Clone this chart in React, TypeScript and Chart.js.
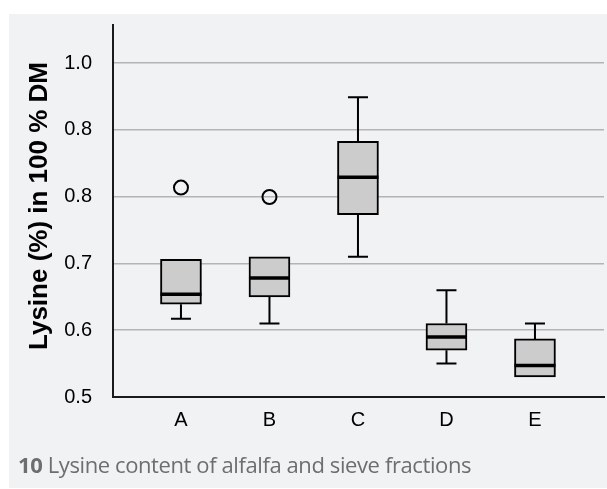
import React, { useEffect, useRef } from "react";
import { Chart, registerables } from "chart.js";

Chart.register(...registerables);

// ---- data ----
const CATEGORIES = ["A", "B", "C", "D", "E"];
const POSITIONS = [1, 2, 3, 4, 5];
const WHISKER_LOW = [0.617, 0.61, 0.71, 0.55, 0.53];
const Q1 = [0.639, 0.65, 0.773, 0.57, 0.53];
const MEDIAN = [0.654, 0.678, 0.829, 0.59, 0.547];
const Q3 = [0.706, 0.71, 0.883, 0.61, 0.587];
const WHISKER_HIGH = [0.706, 0.71, 0.949, 0.66, 0.61];
const OUTLIER_X = [1, 2];
const OUTLIER_Y = [0.8135, 0.7995];
const Y_TICK_VALUES = [0.5, 0.6, 0.7, 0.8, 0.9, 1.0];
const Y_TICK_LABELS = ["0.5", "0.6", "0.7", "0.8", "0.8", "1.0"];
const Y_TITLE = "Lysine (%) in 100 % DM";
const CAPTION_NUM = "10";
const CAPTION_TEXT = "Lysine content of alfalfa and sieve fractions";

const AXIS_FONT = "Liberation Sans, Arial, Helvetica, sans-serif";

const whiskerPlugin = {
  id: "whiskers",
  afterDatasetsDraw(chart: any) {
    const { ctx } = chart;
    const y = chart.scales.y;
    const x = chart.scales.x;
    const meta = chart.getDatasetMeta(0);
    ctx.save();
    ctx.strokeStyle = "#000";
    POSITIONS.forEach((p, i) => {
      const cx = x.getPixelForValue(p);
      const bar = meta.data[i];
      const half = bar ? bar.width / 2 : 20;
      const capHalf = 10;
      const yLo = y.getPixelForValue(WHISKER_LOW[i]);
      const yQ1 = y.getPixelForValue(Q1[i]);
      const yQ3 = y.getPixelForValue(Q3[i]);
      const yHi = y.getPixelForValue(WHISKER_HIGH[i]);
      const yMed = y.getPixelForValue(MEDIAN[i]);
      ctx.lineWidth = 2;
      ctx.beginPath();
      if (WHISKER_LOW[i] < Q1[i]) {
        ctx.moveTo(cx, yQ1);
        ctx.lineTo(cx, yLo);
        ctx.moveTo(cx - capHalf, yLo);
        ctx.lineTo(cx + capHalf, yLo);
      }
      if (WHISKER_HIGH[i] > Q3[i]) {
        ctx.moveTo(cx, yQ3);
        ctx.lineTo(cx, yHi);
        ctx.moveTo(cx - capHalf, yHi);
        ctx.lineTo(cx + capHalf, yHi);
      }
      ctx.stroke();
      ctx.lineWidth = 3.5;
      ctx.beginPath();
      ctx.moveTo(cx - half, yMed);
      ctx.lineTo(cx + half, yMed);
      ctx.stroke();
    });
    ctx.restore();
  },
  afterDraw(chart: any) {
    const { ctx, chartArea } = chart;
    ctx.save();
    ctx.translate(40, (chartArea.top + chartArea.bottom) / 2 - 5);
    ctx.rotate(-Math.PI / 2);
    ctx.font = `bold 26px ${AXIS_FONT}`;
    ctx.fillStyle = "#000";
    ctx.textAlign = "center";
    ctx.textBaseline = "middle";
    ctx.fillText(Y_TITLE, 0, 0);
    ctx.restore();
  },
};

function BoxChart() {
  const ref = useRef<HTMLCanvasElement | null>(null);
  useEffect(() => {
    if (!ref.current) return;
    const chart = new Chart(ref.current, {
      type: "bar",
      data: {
        datasets: [
          {
            type: "bar",
            data: POSITIONS.map((p, i) => ({ x: p, y: [Q1[i], Q3[i]] })) as any,
            backgroundColor: "#cccccc",
            borderColor: "#000000",
            borderWidth: 2,
            borderSkipped: false,
            barThickness: 41,
          } as any,
          {
            type: "scatter",
            data: OUTLIER_X.map((p, i) => ({ x: p, y: OUTLIER_Y[i] })),
            pointRadius: 7,
            pointBorderWidth: 2,
            pointBorderColor: "#000000",
            pointBackgroundColor: "rgba(0,0,0,0)",
          } as any,
        ],
      },
      options: {
        responsive: false,
        animation: false,
        layout: { autoPadding: false, padding: { top: 25, right: 3, left: 0, bottom: 0 } },
        plugins: {
          legend: { display: false },
          tooltip: { enabled: false },
        },
        scales: {
          x: {
            type: "linear",
            offset: false,
            min: 0.232,
            max: 5.78,
            afterBuildTicks: (s: any) => {
              s.ticks = POSITIONS.map((v) => ({ value: v }));
            },
            afterFit: (s: any) => {
              s.height = 92;
              s.paddingLeft = 0;
              s.paddingRight = 0;
            },
            ticks: {
              callback: (_v: any, i: number) => CATEGORIES[i],
              font: { family: AXIS_FONT, size: 20 },
              color: "#000",
              padding: 11,
              maxRotation: 0,
              autoSkip: false,
            },
            grid: { display: false, drawTicks: false, offset: false },
            border: { display: true, color: "#1a1a1a", width: 2 },
          },
          y: {
            type: "linear",
            min: 0.5,
            max: 1.057,
            afterBuildTicks: (s: any) => {
              s.ticks = Y_TICK_VALUES.map((v) => ({ value: v }));
            },
            afterFit: (s: any) => {
              s.width = 113;
              s.paddingTop = 0;
              s.paddingBottom = 0;
            },
            ticks: {
              callback: (_v: any, i: number) => Y_TICK_LABELS[i],
              font: { family: AXIS_FONT, size: 20 },
              color: "#000",
              padding: 21,
            },
            grid: {
              color: (c: any) =>
                c.tick && Math.abs(c.tick.value - 0.5) < 1e-9 ? "rgba(0,0,0,0)" : "#b4b4b4",
              lineWidth: 1.5,
              drawTicks: false,
            },
            border: { display: true, color: "#1a1a1a", width: 2 },
            title: { display: false },
          },
        },
      } as any,
      plugins: [whiskerPlugin],
    });
    return () => chart.destroy();
  }, []);
  return (
    <canvas
      ref={ref}
      width={607}
      height={489}
      style={{ position: "absolute", left: 0, top: 0, width: 607, height: 489 }}
    />
  );
}

export default function App() {
  return (
    <div
      style={{
        position: "fixed",
        left: 0,
        top: 0,
        width: 607,
        height: 489,
        background: "#ffffff",
        overflow: "hidden",
      }}
    >
      <div
        style={{
          position: "absolute",
          left: 9,
          top: 14,
          width: 598,
          height: 474,
          background: "#f1f2f4",
        }}
      />
      <BoxChart />
      <div
        style={{
          position: "absolute",
          left: 18,
          top: 452,
          fontFamily: '"Open Sans", sans-serif',
          fontSize: 22,
          lineHeight: "24px",
          letterSpacing: "-0.4px",
          color: "#6d6e71",
          whiteSpace: "nowrap",
        }}
      >
        <span style={{ fontWeight: "bold" }}>{CAPTION_NUM}</span> {CAPTION_TEXT}
      </div>
    </div>
  );
}
